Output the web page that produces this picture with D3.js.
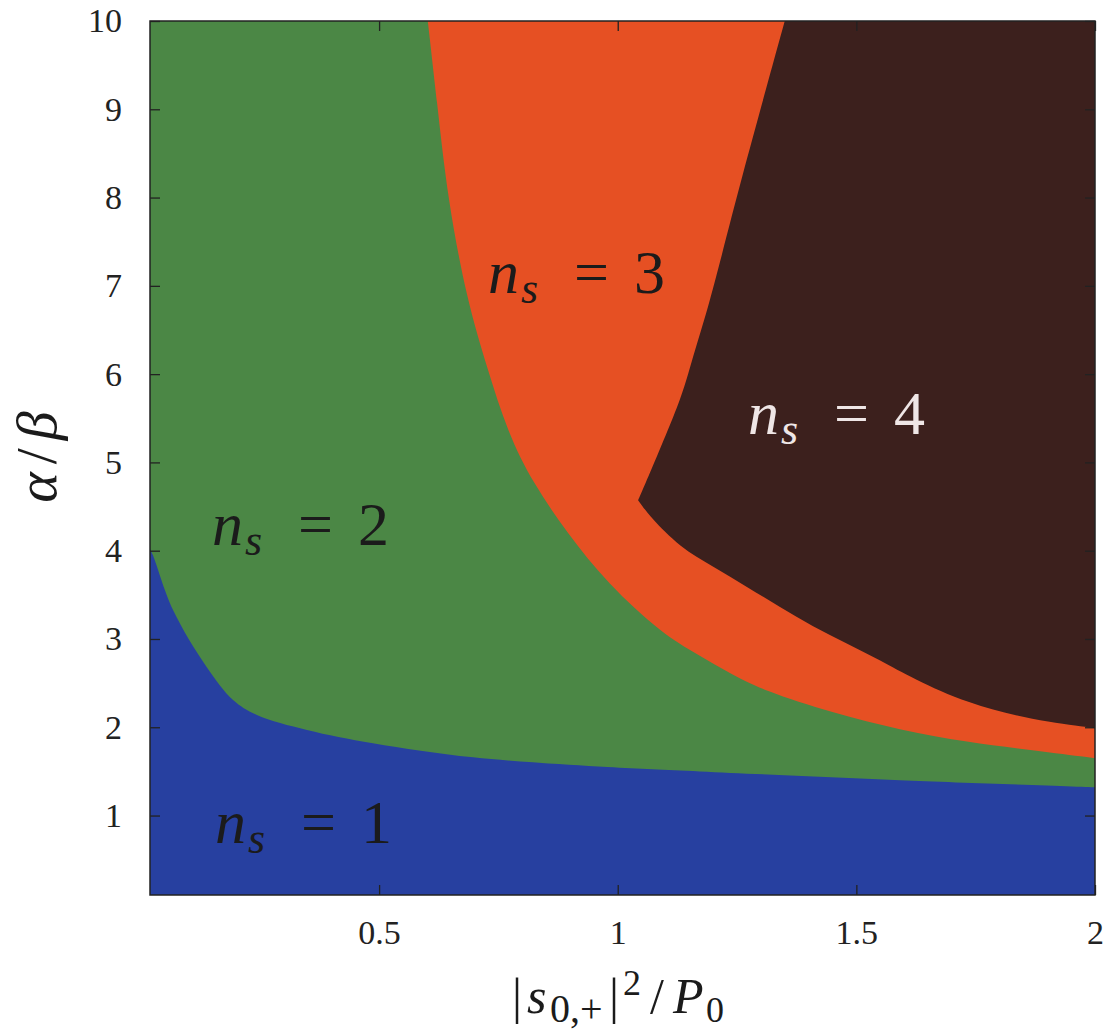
<!DOCTYPE html>
<html>
<head>
<meta charset="utf-8">
<script src="https://cdn.jsdelivr.net/npm/d3@7"></script>
<style>
body { margin: 0; background: #fff; }
</style>
</head>
<body>
<svg id="chart"></svg>
<script>
var width = 1111,
    height = 1034,
    plot = {left: 150, right: 1095, top: 21, bottom: 895},
    serif = "'Liberation Serif'";

// axis ticks
var xTicks = [0.5, 1, 1.5, 2],
    yTicks = [1, 2, 3, 4, 5, 6, 7, 8, 9, 10];

// region boundaries, [|s|^2/P0, alpha/beta]
var blueEdge = [[0.02, 4.02], [0.026, 3.95], [0.068, 3.33], [0.139, 2.68], [0.194, 2.31],
                [0.244, 2.14], [0.349, 1.97], [0.487, 1.82], [0.697, 1.66], [0.978, 1.55],
                [1.172, 1.50], [1.591, 1.40], [2.0, 1.32]];

var greenEdge = [[0.602, 10], [0.621, 9.10], [0.644, 7.97], [0.684, 6.84], [0.726, 6.08],
                 [0.770, 5.33], [0.822, 4.77], [0.894, 4.20], [0.978, 3.63], [1.095, 3.05],
                 [1.166, 2.83], [1.235, 2.61], [1.304, 2.42], [1.451, 2.16], [1.591, 1.97],
                 [1.732, 1.83], [1.870, 1.74], [2.0, 1.65]];

var darkLeft = [[1.350, 10], [1.262, 8.26], [1.193, 6.84], [1.162, 6.27], [1.130, 5.71],
                [1.043, 4.57]];

var darkBottom = [[1.043, 4.57], [1.068, 4.38], [1.130, 4.04], [1.200, 3.82], [1.271, 3.59],
                  [1.340, 3.36], [1.409, 3.14], [1.480, 2.95], [1.550, 2.76], [1.619, 2.55],
                  [1.732, 2.27], [1.870, 2.08], [2.0, 1.99]];

// region labels n_s = k and where they sit (data units, left / baseline)
var labelNames = ["1", "2", "3", "4"],
    labelX = [0.156, 0.150, 0.728, 1.273],
    labelY = [0.69, 4.06, 6.92, 5.32];

var cGreen = "#4b8745",
    cBlue = "#2740a0",
    cOrange = "#e65023",
    cDark = "#3c201d";

var svg = d3.select("#chart").attr("width", width).attr("height", height);

var x = d3.scaleLinear().domain([0.02, 2]).range([plot.left, plot.right]),
    y = d3.scaleLinear().domain([0.1, 10]).range([plot.bottom, plot.top]);

var smooth = d3.line()
    .x(d => x(d[0]))
    .y(d => y(d[1]))
    .curve(d3.curveCatmullRom.alpha(0.5));

var soft = d3.line()
    .x(d => x(d[0]))
    .y(d => y(d[1]))
    .curve(d3.curveBasis);

function init() {
    svg.append("clipPath").attr("id", "clip")
        .append("rect")
        .attr("x", plot.left).attr("y", plot.top)
        .attr("width", plot.right - plot.left)
        .attr("height", plot.bottom - plot.top);

    var g = svg.append("g").attr("clip-path", "url(#clip)");
    drawRegions(g);
    drawLabels(g);
    drawAxes();
    drawTitles();
}

function drawRegions(g) {
    g.append("rect")
        .attr("x", plot.left).attr("y", plot.top)
        .attr("width", plot.right - plot.left)
        .attr("height", plot.bottom - plot.top)
        .attr("fill", cGreen);

    // n_s = 1 : below the blue edge
    g.append("path")
        .attr("fill", cBlue)
        .attr("d", smooth(blueEdge)
            + "L" + x(2) + "," + y(0.1)
            + "L" + x(0.02) + "," + y(0.1) + "Z");

    // n_s = 3 : right of the green edge
    g.append("path")
        .attr("fill", cOrange)
        .attr("d", soft(greenEdge)
            + "L" + x(2) + "," + y(10) + "Z");

    // n_s = 4
    g.append("path")
        .attr("fill", cDark)
        .attr("d", smooth(darkLeft)
            + soft(darkBottom).replace("M", "L")
            + "L" + x(2) + "," + y(10) + "Z");
}

function drawLabels(g) {
    labelNames.forEach(function(k, i) {
        var x0 = x(labelX[i]),
            y0 = y(labelY[i]),
            col = k === "4" ? "#efe6e6" : "#1b1b1b";
        var t = g.append("text")
            .attr("x", x0).attr("y", y0)
            .attr("fill", col)
            .attr("font-size", 62)
            .style("font-family", serif);
        t.append("tspan").style("font-style", "italic").text("n");
        t.append("tspan")
            .attr("x", x0 + 33).attr("dy", 10)
            .attr("font-size", 44)
            .style("font-style", "italic")
            .text("s");
        t.append("tspan").attr("x", x0 + 86).attr("dy", -10).text("=");
        t.append("tspan").attr("x", x0 + 146).text(k);
    });
}

function drawAxes() {
    var bottom = svg.append("g")
        .attr("transform", "translate(0," + plot.bottom + ")")
        .call(d3.axisBottom(x).tickValues(xTicks).tickSize(-10).tickPadding(25).tickFormat(d3.format("")));

    var left = svg.append("g")
        .attr("transform", "translate(" + plot.left + ",0)")
        .call(d3.axisLeft(y).tickValues(yTicks).tickSize(-10).tickPadding(28));

    var top = svg.append("g")
        .attr("transform", "translate(0," + plot.top + ")")
        .call(d3.axisTop(x).tickValues(xTicks).tickSize(-10).tickFormat(""));

    var right = svg.append("g")
        .attr("transform", "translate(" + plot.right + ",0)")
        .call(d3.axisRight(y).tickValues(yTicks).tickSize(-10).tickFormat(""));

    [bottom, left, top, right].forEach(function(a) {
        a.select(".domain").remove();
        a.attr("font-family", null);
        a.selectAll("line").attr("stroke", "#222").attr("stroke-width", 1.3);
        a.selectAll("text")
            .attr("fill", "#222")
            .attr("font-size", 34)
            .style("font-family", serif);
    });

    svg.append("rect")
        .attr("x", plot.left).attr("y", plot.top)
        .attr("width", plot.right - plot.left)
        .attr("height", plot.bottom - plot.top)
        .attr("fill", "none")
        .attr("stroke", "#222")
        .attr("stroke-width", 1.5);
}

function drawTitles() {
    var xt = svg.append("text")
        .attr("y", 1013)
        .attr("fill", "#1b1b1b")
        .attr("font-size", 50)
        .style("font-family", serif);
    xt.append("tspan").attr("x", 512).text("|");
    xt.append("tspan").attr("x", 527).style("font-style", "italic").text("s");
    xt.append("tspan").attr("x", 550).attr("dy", 9).attr("font-size", 40).text("0,+");
    xt.append("tspan").attr("x", 609).attr("dy", -9).text("|");
    xt.append("tspan").attr("x", 623).attr("dy", -18).attr("font-size", 36).text("2");
    xt.append("tspan").attr("x", 650).attr("dy", 18).text("/");
    xt.append("tspan").attr("x", 673).style("font-style", "italic").text("P");
    xt.append("tspan").attr("x", 706).attr("dy", 9).attr("font-size", 36).text("0");

    var yt = svg.append("text")
        .attr("transform", "translate(56,457) rotate(-90)")
        .attr("text-anchor", "middle")
        .attr("fill", "#1b1b1b")
        .attr("font-size", 58)
        .style("font-family", serif);
    yt.append("tspan").style("font-style", "italic").text("α");
    yt.append("tspan").attr("dx", 8).text("/");
    yt.append("tspan").attr("dx", 8).style("font-style", "italic").text("β");
}

init();
</script>
</body>
</html>
